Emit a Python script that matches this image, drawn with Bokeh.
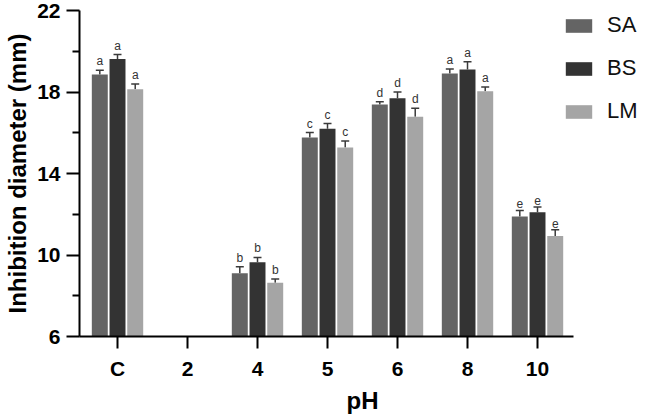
import numpy as np
from bokeh.plotting import figure
from bokeh.models import (ColumnDataSource, Range1d, FixedTicker,
                          Whisker, TeeHead, Legend, LegendItem)
from bokeh.transform import dodge
from bokeh.embed import file_html
from bokeh.resources import INLINE
from bokeh.core.properties import value

nan = np.nan
ph = ["C", "2", "4", "5", "6", "8", "10"]
series = ["SA", "BS", "LM"]
sa = [18.86, nan, 9.10, 15.77, 17.39, 18.91, 11.89]
sa_err = [0.21, nan, 0.32, 0.24, 0.13, 0.22, 0.30]
bs = [19.62, nan, 9.65, 16.20, 17.69, 19.10, 12.10]
bs_err = [0.22, nan, 0.23, 0.25, 0.31, 0.38, 0.25]
lm = [18.13, nan, 8.64, 15.28, 16.78, 18.04, 10.93]
lm_err = [0.26, nan, 0.18, 0.32, 0.42, 0.20, 0.31]
letters = ["a", "", "b", "c", "d", "a", "e"]
y_ticks = [6, 10, 14, 18, 22]
y_minor = [8, 12, 16, 20]

colors = ["#646464", "#333333", "#a5a5a5"]
offsets = [-0.253, 0.0, 0.253]
FONT = "Liberation Sans"

pos = list(range(len(ph)))
x_start = -0.543
x_end = x_start + 566 / 70.0

p = figure(width=645, height=416, output_backend="svg", toolbar_location=None,
           x_range=Range1d(x_start, x_end), y_range=Range1d(6, 22),
           min_border_left=79, min_border_right=0, min_border_top=10, min_border_bottom=79)
p.outline_line_color = None
p.grid.visible = False
p.background_fill_color = "white"

renderers = []
for name, vals, errs, col, off in zip(series, [sa, bs, lm], [sa_err, bs_err, lm_err], colors, offsets):
    upper = [v + e for v, e in zip(vals, errs)]
    src = ColumnDataSource(dict(pos=pos, val=vals, upper=upper, letter=letters))
    xs = dodge("pos", off)
    r = p.vbar(x=xs, top="val", bottom=6, width=0.228, source=src,
               fill_color=col, line_color=None)
    renderers.append(r)
    w = Whisker(base=xs, lower="val", upper="upper", source=src, dimension="height",
                line_color="#3a3a3a", line_width=1.5, lower_head=None,
                upper_head=TeeHead(size=8, line_color="#3a3a3a", line_width=1.5))
    p.add_layout(w)
    p.text(x=xs, y="upper", text="letter", source=src, text_align="center",
           text_baseline="bottom", y_offset=-2, text_font_size="12px",
           text_font=value(FONT), text_color="#333333")

legend = Legend(items=[LegendItem(label=s, renderers=[r]) for s, r in zip(series, renderers)],
                location=(483, 212), glyph_width=33, glyph_height=17,
                label_text_font_size="22px", label_text_font=FONT, label_text_color="#111111",
                label_standoff=12, spacing=17, padding=0, margin=0,
                border_line_color=None, background_fill_alpha=0)
p.add_layout(legend)

p.yaxis.ticker = FixedTicker(ticks=y_ticks, minor_ticks=y_minor)
p.xaxis.ticker = FixedTicker(ticks=pos, minor_ticks=[])
p.xaxis.major_label_overrides = {i: lab for i, lab in zip(pos, ph)}
p.xaxis.bounds = (x_start, pos[-1] + 0.514)

for ax in (p.xaxis, p.yaxis):
    ax.axis_line_width = 2
    ax.axis_line_color = "black"
    ax.major_tick_line_width = 2
    ax.major_tick_line_color = "black"
    ax.major_tick_in = 0
    ax.major_label_text_font = FONT
    ax.major_label_text_font_style = "bold"
    ax.major_label_text_font_size = "21px"
    ax.major_label_text_color = "black"
    ax.axis_label_text_font = FONT
    ax.axis_label_text_font_style = "bold"
    ax.axis_label_text_font_size = "24px"
    ax.axis_label_text_color = "black"

p.yaxis.major_tick_out = 13
p.yaxis.minor_tick_out = 7
p.yaxis.minor_tick_in = 0
p.yaxis.minor_tick_line_width = 2
p.yaxis.minor_tick_line_color = "black"
p.yaxis.major_label_standoff = 6
p.yaxis.axis_label = "Inhibition diameter (mm)"
p.yaxis.axis_label_standoff = 3

p.xaxis.major_tick_out = 12
p.xaxis.minor_tick_out = 0
p.xaxis.major_label_standoff = 8
p.xaxis.axis_label = "pH"
p.xaxis.axis_label_standoff = 4

open("out.html", "w").write(file_html(p, INLINE))
